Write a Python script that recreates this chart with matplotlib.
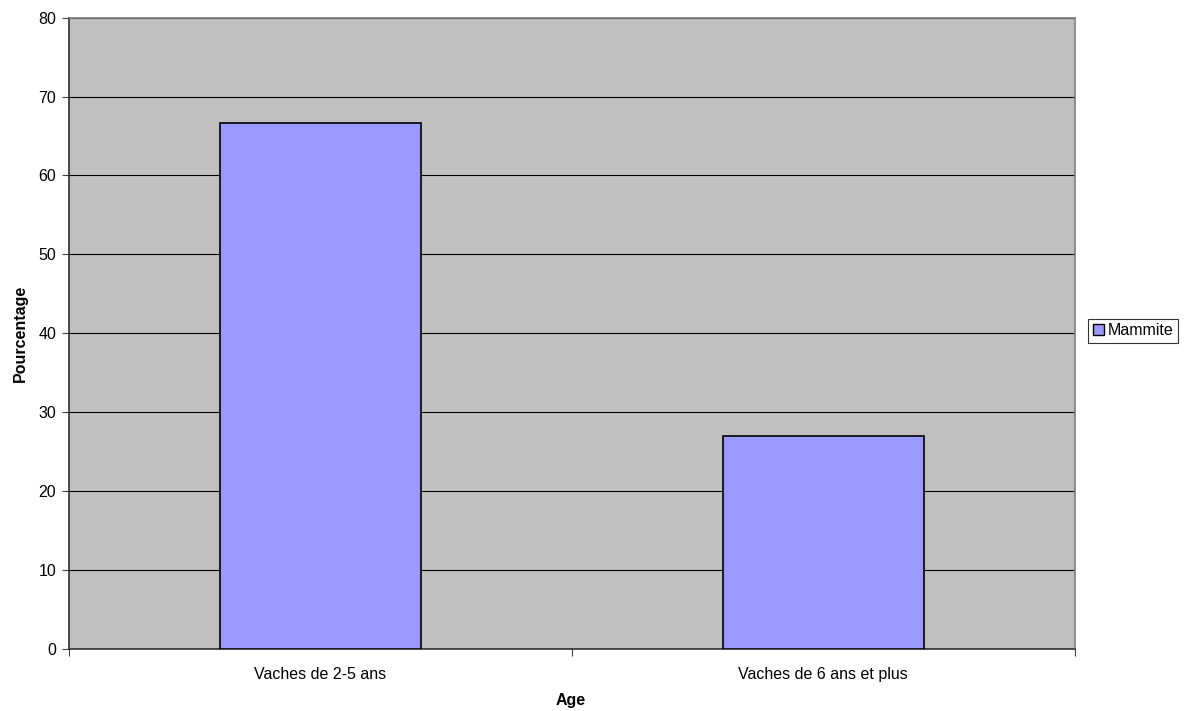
import matplotlib
matplotlib.use("Agg")
import matplotlib.pyplot as plt
from matplotlib.patches import Patch

plt.rcParams['font.family'] = ['Liberation Sans', 'DejaVu Sans']

categories = ["Vaches de 2-5 ans", "Vaches de 6 ans et plus"]
mammite = [66.7, 27.0]
yticks = [0, 10, 20, 30, 40, 50, 60, 70, 80]

FS = 11.5

fig = plt.figure(figsize=(11.85, 7.11), dpi=100)
ax = fig.add_axes([0.058, 0.0876, 0.8489, 0.8875])
ax.set_facecolor("#c0c0c0")

x = list(range(len(categories)))
ax.bar(x, mammite, width=0.4, color="#9999ff", edgecolor="black", linewidth=1.2, zorder=3)

ax.set_xlim(-0.5, len(categories) - 0.5)
ax.set_ylim(0, 80)
ax.set_yticks(yticks)
ax.set_yticklabels([str(v) for v in yticks], fontsize=FS)
ax.yaxis.grid(True, color="black", linewidth=0.8, zorder=1)
ax.set_axisbelow(True)

# boundary ticks between categories, labels centred under bars
ax.set_xticks([i - 0.5 for i in range(len(categories) + 1)])
ax.set_xticklabels([])
ax.set_xticks(x, minor=True)
ax.set_xticklabels(categories, minor=True, fontsize=FS)
ax.tick_params(axis="x", which="minor", length=0, pad=13)
ax.tick_params(axis="x", which="major", length=5, width=0.8, color="#404040")
ax.tick_params(axis="y", length=5, width=0.8, color="#404040", pad=4)

for side in ("top", "right"):
    ax.spines[side].set_color("#808080")
    ax.spines[side].set_linewidth(1.2)
for side in ("left", "bottom"):
    ax.spines[side].set_color("#303030")
    ax.spines[side].set_linewidth(1.2)

fig.text(0.4819, 0.0141, "Age", fontsize=FS, fontweight="bold", ha="center", va="center")
fig.text(0.0169, 0.5316, "Pourcentage", fontsize=FS, fontweight="bold",
         rotation=90, ha="center", va="center")

leg = fig.legend(handles=[Patch(facecolor="#9999ff", edgecolor="black", label="Mammite")],
                 loc="center left", bbox_to_anchor=(0.918, 0.5346), fontsize=FS,
                 frameon=True, fancybox=False, borderpad=0.3, handlelength=0.7,
                 handleheight=0.7, handletextpad=0.25, borderaxespad=0)
leg.get_frame().set_edgecolor("black")
leg.get_frame().set_linewidth(0.8)

fig.savefig("out.png", dpi=100, facecolor="white")
